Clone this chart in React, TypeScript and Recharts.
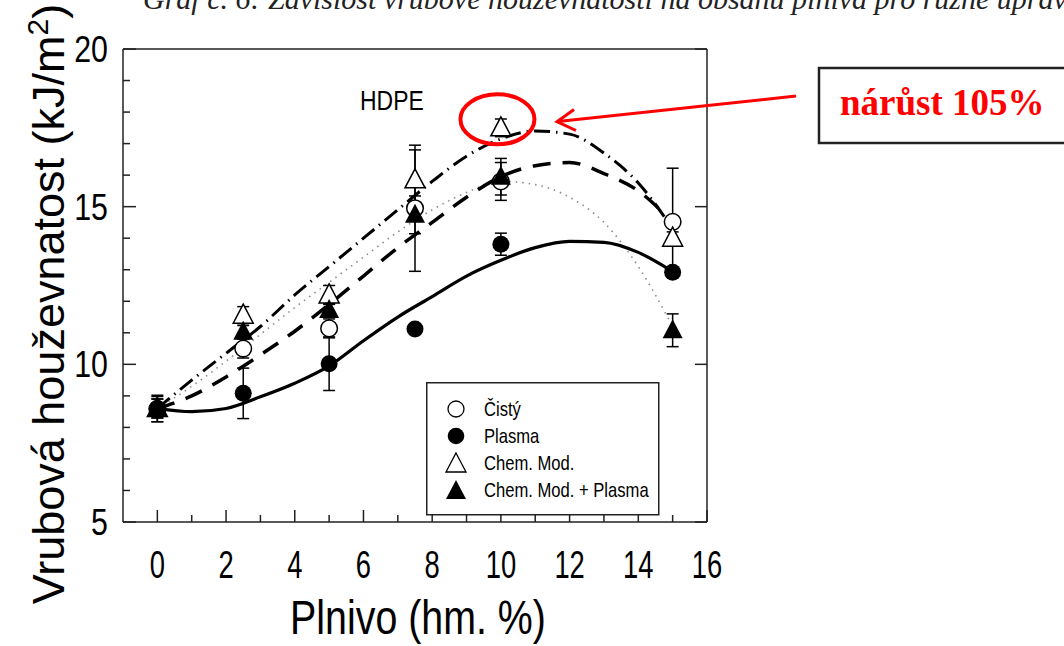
import React from "react";
import {
  ComposedChart,
  Line,
  Scatter,
  XAxis,
  YAxis,
  ErrorBar,
  ReferenceDot,
  Legend,
} from "recharts";

// fitted curves at whole percent steps
const fitX = [0, 1, 2, 3, 4, 5, 6, 7, 8, 9, 10, 11, 12, 13, 14, 15];
const fitCisty = [8.6, 9.0, 9.6, 10.3, 11.05, 11.9, 12.8, 13.7, 14.5, 15.3, 15.95, 16.3, 16.4, 16.05, 15.5, 14.5];
const fitPlasma = [8.6, 8.5, 8.6, 8.97, 9.4, 9.95, 10.75, 11.5, 12.15, 12.8, 13.3, 13.7, 13.9, 13.87, 13.55, 12.94];
const fitChem = [8.6, 9.5, 10.35, 11.2, 12.2, 13.1, 14.0, 14.9, 15.8, 16.6, 17.15, 17.4, 17.3, 16.7, 15.75, 14.3];
const fitChemPlasma = [8.6, 9.3, 10.1, 10.95, 11.8, 12.6, 13.4, 14.2, 14.9, 15.45, 15.8, 15.7, 15.3, 14.5, 13.1, 11.2];

// measured points
const pointX = [0, 2.5, 5, 7.5, 10, 15];
const cisty = [8.58, 10.5, 11.14, 14.95, 15.8, 14.52];
const cistyErr = [0.4, 0.3, 0.3, 2.0, 0.6, 1.7];
const plasma = [8.6, 9.08, 10.02, 11.12, 13.81, 12.92];
const plasmaErr = [0.42, 0.8, 0.85, 0, 0.35, 0.15];
const chem = [8.6, 11.56, 12.2, 15.85, 17.5, 14.0];
const chemErr = [0.3, 0.27, 0.3, 0.95, 0.28, 0.2];
const chemPlasma = [8.6, 11.03, 11.72, 14.74, 15.95, 11.08];
const chemPlasmaErr = [0.3, 0.2, 0.2, 0.6, 0.58, 0.52];

const seriesNames = ["Čistý", "Plasma", "Chem. Mod.", "Chem. Mod. + Plasma"];

const xTicks = [0, 1, 2, 3, 4, 5, 6, 7, 8, 9, 10, 11, 12, 13, 14, 15, 16];
const xTopTicks = [0, 2, 4, 6, 8, 10, 12, 14, 16];
const yTicks = [5, 6, 7, 8, 9, 10, 11, 12, 13, 14, 15, 16, 17, 18, 19, 20];
const yRightTicks = [5, 10, 15, 20];

const SANS = '"Liberation Sans", Arial, sans-serif';
const SERIF = '"Liberation Serif", "Times New Roman", serif';
const FRAME = "#222";

const toPoints = (ys: number[], errs?: number[]) =>
  pointX.map((x, i) => ({ x, y: ys[i], err: errs ? errs[i] : 0 }));
const toFit = (ys: number[]) => fitX.map((x, i) => ({ x, y: ys[i] }));

// condensed text, the original figure uses a narrow face
const NText = (p: any) => (
  <text
    transform={`translate(${p.x},${p.y}) scale(${p.sx ?? 0.8},1)`}
    textAnchor={p.anchor ?? "start"}
    fontFamily={SANS}
    fontSize={p.size}
    fill="#000"
  >
    {p.children}
  </text>
);

const OpenCircle = (p: any) => (
  <circle cx={p.cx} cy={p.cy} r={8.3} fill="#fff" stroke="#000" strokeWidth={1.5} />
);
const FilledCircle = (p: any) => <circle cx={p.cx} cy={p.cy} r={8.5} fill="#000" />;
const triPath = (cx: number, cy: number) =>
  `M${cx},${cy - 11} L${cx + 10},${cy + 8} L${cx - 10},${cy + 8} Z`;
const OpenTri = (p: any) => (
  <path d={triPath(p.cx, p.cy)} fill="#fff" stroke="#000" strokeWidth={1.5} />
);
const FilledTri = (p: any) => <path d={triPath(p.cx, p.cy)} fill="#000" />;

const BottomTick = (p: any) => {
  const v = p.payload.value;
  const major = v % 2 === 0;
  return (
    <g>
      <line x1={p.x} x2={p.x} y1={p.y} y2={p.y - (major ? 12 : 7)} stroke={FRAME} strokeWidth={1.5} />
      {major && (
        <NText x={p.x} y={p.y + 56} anchor="middle" size={38} sx={0.72}>
          {v}
        </NText>
      )}
    </g>
  );
};

const TopTick = (p: any) => (
  <line x1={p.x} x2={p.x} y1={p.y} y2={p.y + 13} stroke={FRAME} strokeWidth={1.5} />
);

const LeftTick = (p: any) => {
  const v = p.payload.value;
  const major = v % 5 === 0;
  return (
    <g>
      <line x1={p.x} x2={p.x + (major ? 13 : 7)} y1={p.y} y2={p.y} stroke={FRAME} strokeWidth={1.5} />
      {major && (
        <NText x={p.x - 15} y={p.y + 13} anchor="end" size={37} sx={0.82}>
          {v}
        </NText>
      )}
    </g>
  );
};

const RightTick = (p: any) => (
  <line x1={p.x} x2={p.x - 12} y1={p.y} y2={p.y} stroke={FRAME} strokeWidth={1.5} />
);

const legendShapes = [
  <circle cx={30} cy={27} r={8} fill="#fff" stroke="#000" strokeWidth={1.3} />,
  <circle cx={30} cy={54} r={8.3} fill="#000" />,
  <path d={triPath(30, 82)} fill="#fff" stroke="#000" strokeWidth={1.3} />,
  <path d={triPath(30, 109)} fill="#000" />,
];

const LegendBox = () => (
  <svg width={234} height={134} style={{ display: "block" }}>
    <rect x={0.75} y={0.75} width={232} height={132} fill="#fff" stroke={FRAME} strokeWidth={1.5} />
    {seriesNames.map((name, i) => (
      <g key={name}>
        {legendShapes[i]}
        <NText x={58} y={34 + i * 27} size={20.5} sx={0.81}>
          {name}
        </NText>
      </g>
    ))}
  </svg>
);

export default function App() {
  return (
    <div style={{ position: "absolute", left: 0, top: 0, width: 1064, height: 646, background: "#fff" }}>
      <ComposedChart width={1064} height={646} margin={{ top: 0, right: 0, bottom: 0, left: 0 }}>
        <XAxis
          dataKey="x"
          type="number"
          domain={[-1, 16]}
          ticks={xTicks}
          interval={0}
          height={124}
          tickSize={0}
          tickMargin={0}
          tick={BottomTick}
          tickLine={false}
          axisLine={{ stroke: FRAME, strokeWidth: 1.5 }}
          allowDataOverflow
        />
        <XAxis
          xAxisId="top"
          orientation="top"
          type="number"
          domain={[-1, 16]}
          ticks={xTopTicks}
          interval={0}
          height={49}
          tickSize={0}
          tickMargin={0}
          tick={TopTick}
          tickLine={false}
          axisLine={{ stroke: FRAME, strokeWidth: 1.5 }}
          allowDataOverflow
        />
        <YAxis
          dataKey="y"
          type="number"
          domain={[5, 20]}
          ticks={yTicks}
          interval={0}
          width={123}
          tickSize={0}
          tickMargin={0}
          tick={LeftTick}
          tickLine={false}
          axisLine={{ stroke: FRAME, strokeWidth: 1.5 }}
          allowDataOverflow
        />
        <YAxis
          yAxisId="right"
          orientation="right"
          type="number"
          domain={[5, 20]}
          ticks={yRightTicks}
          interval={0}
          width={357}
          tickSize={0}
          tickMargin={0}
          tick={RightTick}
          tickLine={false}
          axisLine={{ stroke: FRAME, strokeWidth: 1.5 }}
          allowDataOverflow
        />

        <Line data={toFit(fitChemPlasma)} dataKey="y" type="monotone" stroke="#8a8a8a" strokeWidth={1.6}
          strokeDasharray="1.5 5" dot={false} isAnimationActive={false} legendType="none" />
        <Line data={toFit(fitChem)} dataKey="y" type="monotone" stroke="#000" strokeWidth={3}
          strokeDasharray="16 6 1.5 6" dot={false} isAnimationActive={false} legendType="none" />
        <Line data={toFit(fitCisty)} dataKey="y" type="monotone" stroke="#000" strokeWidth={3.5}
          strokeDasharray="18 12" dot={false} isAnimationActive={false} legendType="none" />
        <Line data={toFit(fitPlasma)} dataKey="y" type="monotone" stroke="#000" strokeWidth={3.2}
          dot={false} isAnimationActive={false} legendType="none" />

        <Scatter name={seriesNames[0]} data={toPoints(cisty, cistyErr)} shape={OpenCircle} isAnimationActive={false}>
          <ErrorBar dataKey="err" direction="y" width={6} stroke="#000" strokeWidth={1.5} />
        </Scatter>
        <Scatter name={seriesNames[1]} data={toPoints(plasma, plasmaErr)} shape={FilledCircle} isAnimationActive={false}>
          <ErrorBar dataKey="err" direction="y" width={6} stroke="#000" strokeWidth={1.5} />
        </Scatter>
        <Scatter name={seriesNames[2]} data={toPoints(chem, chemErr)} shape={OpenTri} isAnimationActive={false}>
          <ErrorBar dataKey="err" direction="y" width={6} stroke="#000" strokeWidth={1.5} />
        </Scatter>
        <Scatter name={seriesNames[3]} data={toPoints(chemPlasma, chemPlasmaErr)} shape={FilledTri} isAnimationActive={false}>
          <ErrorBar dataKey="err" direction="y" width={6} stroke="#000" strokeWidth={1.5} />
        </Scatter>

        <ReferenceDot
          x={9.9}
          y={17.77}
          ifOverflow="visible"
          shape={(p: any) => (
            <ellipse cx={p.cx} cy={p.cy} rx={37} ry={25} fill="none" stroke="#f00" strokeWidth={4} />
          )}
        />

        <Legend
          layout="horizontal"
          verticalAlign="middle"
          align="center"
          content={LegendBox}
          wrapperStyle={{ position: "absolute", left: 426, top: 382, width: 234, height: 134, margin: 0 }}
        />
      </ComposedChart>

      <svg
        width={1064}
        height={646}
        style={{ position: "absolute", left: 0, top: 0, pointerEvents: "none" }}
      >
        <text x={143} y={9} fontFamily={SERIF} fontStyle="italic" fontSize={30} fill="#222">
          Graf č. 6: Závislost vrubové houževnatosti na obsahu plniva pro různé úpravy plniva
        </text>
        <NText x={360} y={110} size={27} sx={0.85}>HDPE</NText>
        <NText x={418} y={634} anchor="middle" size={48} sx={0.82}>
          Plnivo (hm. %)
        </NText>
        <text transform="translate(64,304) rotate(-90)" textAnchor="middle" fontFamily={SANS}
          fontSize={45} fill="#000">
          Vrubová houževnatost (kJ/m<tspan dy={-16} fontSize={30}>2</tspan><tspan dy={16}>)</tspan>
        </text>

        <line x1={796} y1={96} x2={558} y2={121.5} stroke="#f00" strokeWidth={3} />
        <polyline points="574,109.5 557,121.7 576,130.5" fill="none" stroke="#f00" strokeWidth={3} />

        <rect x={819} y={68} width={250} height={75} fill="#fff" stroke={FRAME} strokeWidth={2.5} />
        <text x={840} y={115} fontFamily={SERIF} fontWeight="bold" fontSize={37} fill="#f00">
          nárůst 105%
        </text>
      </svg>
    </div>
  );
}
